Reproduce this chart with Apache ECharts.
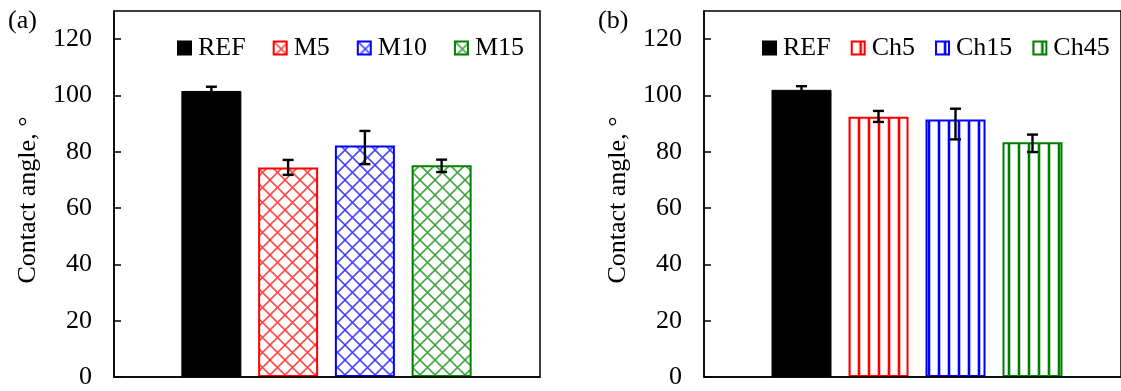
<!DOCTYPE html>
<html>
<head>
<meta charset="utf-8">
<script src="https://cdn.jsdelivr.net/npm/echarts@6/dist/echarts.min.js"></script>
<style>
html,body{margin:0;padding:0;background:#fff;}
#chart{width:1121px;height:391px;}
</style>
</head>
<body>
<div id="chart"></div>
<script>
// ---- data ----
const categoriesA = ['REF', 'M5', 'M10', 'M15'];
const valuesA = [101.6, 74.4, 82.2, 75.2];
const errUpA = [1.5, 2.7, 5.2, 2.0];
const errDownA = [0.8, 2.6, 6.6, 2.4];

const categoriesB = ['REF', 'Ch5', 'Ch15', 'Ch45'];
const valuesB = [102.0, 92.4, 91.5, 83.4];
const errUpB = [1.3, 2.1, 3.8, 2.7];
const errDownB = [1.1, 1.8, 7.1, 3.5];

const yTicks = [0, 20, 40, 60, 80, 100, 120];
const yTitle = 'Contact angle, °';
const panelLabels = ['(a)', '(b)'];

// ---- styles ----
const FONT = 'Liberation Serif';
const FS = 26;
const colorsA = ['#000000', '#ff0000', '#0000ff', '#008000'];
const colorsB = ['#000000', '#ff0000', '#0000ff', '#008000'];

function crossHatch(color) {
  const s = 15;
  const c = document.createElement('canvas');
  c.width = s; c.height = s;
  const g = c.getContext('2d');
  g.fillStyle = '#fff'; g.fillRect(0, 0, s, s);
  g.strokeStyle = color; g.globalAlpha = 0.7; g.lineWidth = 1.6;
  for (const d of [-s, 0, s]) {
    g.beginPath();
    g.moveTo(d, 0); g.lineTo(d + s, s);
    g.moveTo(d + s, 0); g.lineTo(d, s);
    g.stroke();
  }
  return { image: c, repeat: 'repeat' };
}
function vStripes(color) {
  const c = document.createElement('canvas');
  c.width = 10; c.height = 10;
  const g = c.getContext('2d');
  g.fillStyle = '#fff'; g.fillRect(0, 0, 10, 10);
  g.fillStyle = color; g.fillRect(8, 0, 2, 10);
  g.globalAlpha = 0.3; g.fillRect(7, 0, 1, 10); g.fillRect(0, 0, 1, 10);
  return { image: c, repeat: 'repeat' };
}

const PLOT_TOP = 11, PLOT_H = 366, OUTER_W = 426;
const panels = [
  { outerLeft: 114, innerLeft: 173, innerW: 307, cats: categoriesA, vals: valuesA, up: errUpA, dn: errDownA,
    colors: colorsA, fill: crossHatch, legendLeft: 172, legendGap: 27, label: panelLabels[0], labelLeft: 8 },
  { outerLeft: 704, innerLeft: 763, innerW: 308, cats: categoriesB, vals: valuesB, up: errUpB, dn: errDownB,
    colors: colorsB, fill: vStripes, legendLeft: 757, legendGap: 20, label: panelLabels[1], labelLeft: 598 }
];

const grid = [], xAxis = [], yAxis = [], series = [], legend = [], graphic = [];
const textBase = { fontFamily: FONT, fontSize: FS, color: '#000' };

panels.forEach((p, k) => {
  const go = grid.length;
  grid.push({ left: p.outerLeft, top: PLOT_TOP, width: OUTER_W, height: PLOT_H, show: true,
    borderColor: '#000', borderWidth: 1.5, backgroundColor: 'transparent', z: 3 });
  grid.push({ left: p.innerLeft, top: PLOT_TOP, width: p.innerW, height: PLOT_H });
  xAxis.push({ gridIndex: go, type: 'value', min: 0, max: 1,
    axisLine: { show: true, lineStyle: { color: '#000', width: 1.5 } },
    axisTick: { show: false }, axisLabel: { show: false }, splitLine: { show: false } });
  xAxis.push({ gridIndex: go + 1, type: 'category', data: p.cats, show: false });
  yAxis.push({ gridIndex: go, type: 'value', min: 0, max: 130, interval: 20,
    axisLine: { show: true, lineStyle: { color: '#000', width: 1.5 } },
    axisTick: { show: true, inside: true, length: 7, customValues: yTicks, lineStyle: { color: '#000', width: 1.5 } },
    axisLabel: Object.assign({ customValues: yTicks, margin: 22 }, textBase),
    splitLine: { show: false },
    name: yTitle, nameLocation: 'middle', nameGap: 73,
    nameTextStyle: Object.assign({ padding: [0, 12, 0, 0] }, textBase) });
  yAxis.push({ gridIndex: go + 1, type: 'value', min: 0, max: 130, show: false });

  p.cats.forEach((c, i) => {
    const isRef = i === 0;
    series.push({
      type: 'bar', name: c, xAxisIndex: go + 1, yAxisIndex: go + 1,
      data: p.cats.map((_, j) => (j === i ? p.vals[i] : null)),
      barWidth: 60, barGap: '-100%',
      itemStyle: {
        color: isRef ? p.colors[i] : p.fill(p.colors[i]),
        borderColor: p.colors[i], borderWidth: isRef ? 1 : 2
      },
      emphasis: { disabled: true }
    });
  });
  series.push({
    type: 'custom', name: 'err' + k, xAxisIndex: go + 1, yAxisIndex: go + 1, z: 10, silent: true,
    encode: { x: 0, y: [1, 2] },
    data: p.cats.map((_, i) => [i, p.vals[i] - p.dn[i], p.vals[i] + p.up[i]]),
    renderItem: function (params, api) {
      const top = api.coord([api.value(0), api.value(2)]);
      const bot = api.coord([api.value(0), api.value(1)]);
      const x = top[0], h = 5.5;
      const st = { stroke: '#000', lineWidth: 2.4 };
      return { type: 'group', children: [
        { type: 'line', shape: { x1: x, y1: top[1], x2: x, y2: bot[1] }, style: st },
        { type: 'line', shape: { x1: x - h, y1: top[1], x2: x + h, y2: top[1] }, style: st },
        { type: 'line', shape: { x1: x - h, y1: bot[1], x2: x + h, y2: bot[1] }, style: st }
      ] };
    }
  });
  legend.push({
    data: p.cats, left: p.legendLeft, top: 30, width: 460, icon: 'rect', itemWidth: 13, itemHeight: 13,
    itemGap: p.legendGap, selectedMode: false,
    textStyle: Object.assign({ lineHeight: 26, padding: [0, 0, 0, 2] }, textBase)
  });
  graphic.push({ type: 'text', left: p.labelLeft, top: 8,
    style: { text: p.label, font: FS + 'px "' + FONT + '"', fill: '#000' } });
});

const chart = echarts.init(document.getElementById('chart'), null, { renderer: 'canvas' });
chart.setOption({
  animation: false,
  backgroundColor: '#fff',
  grid, xAxis, yAxis, series, legend, graphic
});
</script>
</body>
</html>
